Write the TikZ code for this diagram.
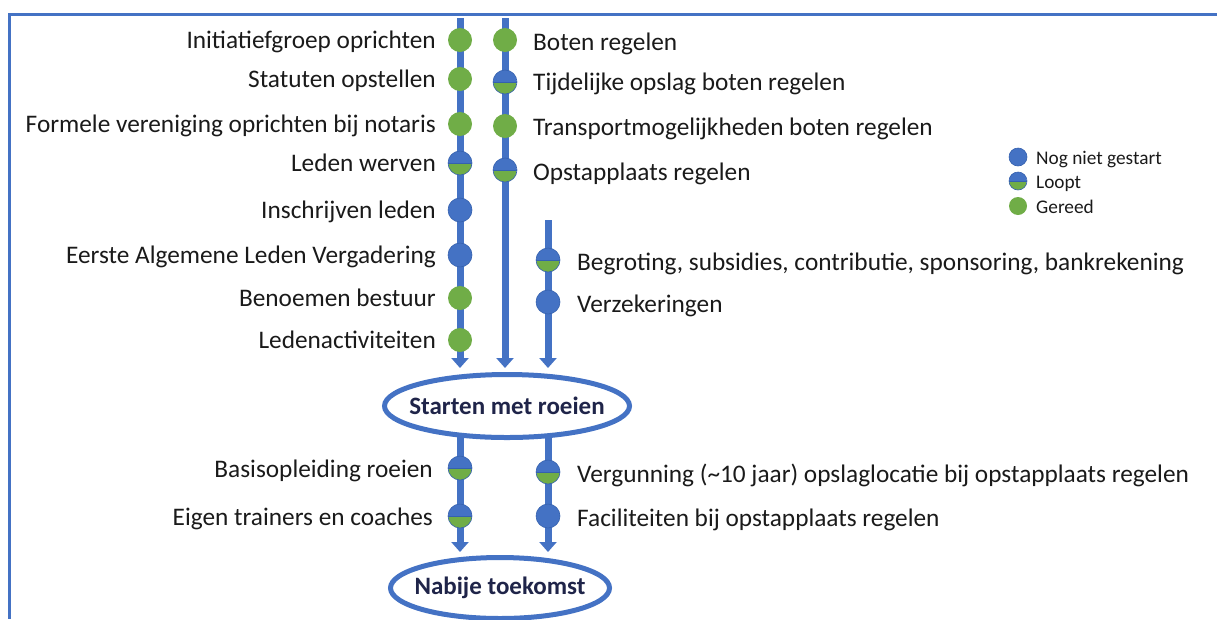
\documentclass[tikz,border=0pt]{standalone}
\usepackage{fontspec}
\setmainfont{Carlito}
\usetikzlibrary{arrows.meta,shapes.geometric,backgrounds}
\definecolor{myblue}{HTML}{4472C4}
\definecolor{mygreen}{HTML}{70AD47}
\definecolor{edgeblue}{HTML}{3561AE}
\definecolor{navy}{HTML}{1F2449}
\definecolor{txt}{HTML}{1A1A1A}
\begin{document}
\begin{tikzpicture}[x=1pt,y=-1pt,
 stat/.style={circle,minimum size=24pt,inner sep=0pt},
 todo/.style={stat,fill=myblue,draw=edgeblue,line width=0.6pt},
 busy/.style={stat,draw=edgeblue,line width=0.6pt,path picture={
   \fill[myblue] (path picture bounding box.north west) rectangle (path picture bounding box.east);
   \fill[mygreen] (path picture bounding box.west) rectangle (path picture bounding box.south east);
   \draw[edgeblue,line width=0.6pt] (path picture bounding box.west) -- (path picture bounding box.east);}},
 done/.style={stat,fill=mygreen},
 lbl/.style={font=\fontsize{25.3}{30}\selectfont,text=txt,inner sep=0pt,text height=16pt,text depth=0pt},
 leg/.style={font=\fontsize{19.3}{23}\selectfont,text=txt,inner sep=0pt,text height=12pt,text depth=0pt,anchor=west},
 flow/.style={myblue,line width=7pt,-{Triangle[width=17pt,length=10pt]}},
 goal/.style={ellipse,draw=myblue,line width=5pt,fill=white,inner sep=0pt},
 goaltext/.style={font=\fontsize{25}{30}\selectfont\bfseries,text=navy,inner sep=0pt}
]
\useasboundingbox (0,0) rectangle (1217,619);
\draw[myblue,line width=3pt] (1217,14) -- (9.5,14) -- (9.5,619);

% goals
\node[goal,minimum width=245pt,minimum height=63pt,label={[goaltext]center:Starten met roeien}] (start) at (507,406) {};
\node[goal,minimum width=219pt,minimum height=61pt,label={[goaltext]center:Nabije toekomst}] (future) at (500,588) {};

% column coordinates
\coordinate (t1) at (460,18);
\coordinate (t2) at (505,18);
\coordinate (t3) at (548,220);
\coordinate (x1) at (460,0);
\coordinate (x2) at (548,0);

% left column
\node[done] (a1) at (460,40) {};
\node[done] (a2) at (460,79) {};
\node[done] (a3) at (460,124) {};
\node[busy] (a4) at (460,163) {};
\node[todo] (a5) at (460,210) {};
\node[todo] (a6) at (460,255) {};
\node[done] (a7) at (460,298) {};
\node[done] (a8) at (460,340) {};
\node[lbl,anchor=east] (la1) at (436,40) {Initiatiefgroep oprichten};
\node[lbl,anchor=east] (la2) at (436,79) {Statuten opstellen};
\node[lbl,anchor=east] (la3) at (436,124) {Formele vereniging oprichten bij notaris};
\node[lbl,anchor=east] (la4) at (436,163) {Leden werven};
\node[lbl,anchor=east] (la5) at (436,210) {Inschrijven leden};
\node[lbl,anchor=east] (la6) at (436,255) {Eerste Algemene Leden Vergadering};
\node[lbl,anchor=east] (la7) at (436,298) {Benoemen bestuur};
\node[lbl,anchor=east] (la8) at (436,340) {Ledenactiviteiten};

% middle column
\node[done] (b1) at (505,40) {};
\node[busy] (b2) at (505,82) {};
\node[done] (b3) at (505,126) {};
\node[busy] (b4) at (505,170) {};
\node[lbl,anchor=west] (lb1) at (533,42) {Boten regelen};
\node[lbl,anchor=west] (lb2) at (533,82) {Tijdelijke opslag boten regelen};
\node[lbl,anchor=west] (lb3) at (533,127) {Transportmogelijkheden boten regelen};
\node[lbl,anchor=west] (lb4) at (533,172) {Opstapplaats regelen};

% right column
\node[busy] (c1) at (548,260) {};
\node[todo] (c2) at (548,302) {};
\node[lbl,anchor=west] (lc1) at (577,262) {Begroting, subsidies, contributie, sponsoring, bankrekening};
\node[lbl,anchor=west] (lc2) at (577,304) {Verzekeringen};

% lower part
\node[busy] (d1) at (460,468) {};
\node[busy] (d2) at (460,516) {};
\node[busy] (e1) at (548,472) {};
\node[todo] (e2) at (548,516) {};
\node[lbl,anchor=east] (ld1) at (433,469) {Basisopleiding roeien};
\node[lbl,anchor=east] (ld2) at (433,517) {Eigen trainers en coaches};
\node[lbl,anchor=west] (le1) at (577,474) {Vergunning (\textasciitilde 10 jaar) opslaglocatie bij opstapplaats regelen};
\node[lbl,anchor=west] (le2) at (577,518) {Faciliteiten bij opstapplaats regelen};

% legend
\node[stat,minimum size=18pt,fill=myblue,draw=edgeblue,line width=0.6pt] (g1) at (1018,157) {};
\node[busy,minimum size=18pt] (g2) at (1018,181) {};
\node[stat,minimum size=18pt,fill=mygreen] (g3) at (1018,206) {};
\node[leg] (lg1) at (1036,158) {Nog niet gestart};
\node[leg] (lg2) at (1036,182) {Loopt};
\node[leg] (lg3) at (1036,207) {Gereed};

% flows
\begin{scope}[on background layer]
\draw[flow,shorten >=4pt] (t1) -- (t1 |- start.north);
\draw[flow,shorten >=4pt] (t2) -- (t2 |- start.north);
\draw[flow,shorten >=4pt] (t3) -- (t3 |- start.north);
\draw[flow,shorten >=3pt] (x1 |- start.center) -- (x1 |- future.north);
\draw[flow,shorten >=3pt] (x2 |- start.center) -- (x2 |- future.north);
\end{scope}
\end{tikzpicture}
\end{document}
